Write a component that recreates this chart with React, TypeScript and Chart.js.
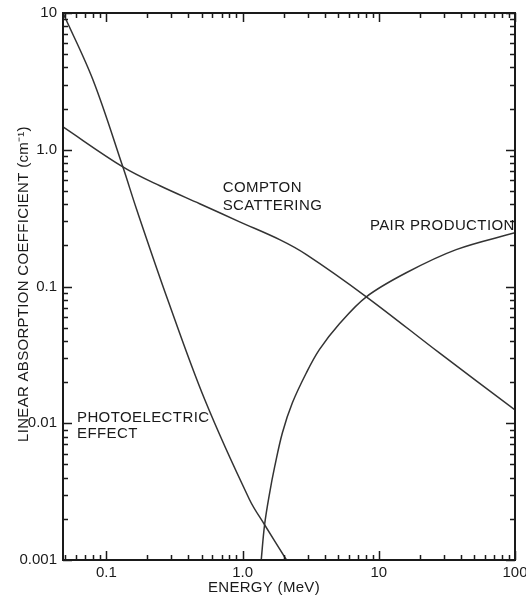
import React, { useEffect, useRef } from "react";
import { Chart, registerables } from "chart.js";

Chart.register(...registerables);

// Photoelectric effect
const photoEnergy = [0.048, 0.0796, 0.132, 0.167, 0.282, 0.527, 1.125, 1.45, 2.1];
const photoCoef = [10.0, 3.25, 0.75, 0.364, 0.08, 0.0149, 0.00276, 0.00181, 0.001];

// Compton scattering
const comptonEnergy = [0.048, 0.132, 0.247, 0.484, 0.951, 1.87, 2.94, 8.1, 27.7, 100];
const comptonCoef = [1.47, 0.75, 0.545, 0.403, 0.297, 0.22, 0.171, 0.0841, 0.0328, 0.0125];

// Pair production
const pairEnergy = [1.37, 1.45, 1.58, 1.72, 1.96, 2.32, 2.94, 3.66, 5.14, 8.1, 15.9, 37.0, 100];
const pairCoef = [0.001, 0.00181, 0.0031, 0.00481, 0.00853, 0.0141, 0.0234, 0.0345, 0.0534, 0.0841, 0.126, 0.186, 0.247];

// Axes
const xTickValues = [0.1, 1, 10, 100];
const xTickLabels = ["0.1", "1.0", "10", "100"];
const yTickValues = [0.001, 0.01, 0.1, 1, 10];
const yTickLabels = ["0.001", "0.01", "0.1", "1.0", "10"];
const xTitle = "ENERGY (MeV)";
const yTitle = "LINEAR ABSORPTION COEFFICIENT (cm\u207B\u00B9)";

// Curve labels (anchored in data coordinates: energy, coefficient)
const labelTexts = ["COMPTON", "SCATTERING", "PAIR PRODUCTION", "PHOTOELECTRIC", "EFFECT"];
const labelEnergy = [0.714, 0.714, 8.6, 0.0608, 0.0608];
const labelCoef = [0.493, 0.364, 0.26, 0.0102, 0.0078];

const FONT = '"Liberation Sans", Arial, sans-serif';
const LINE = "#333333";
const INK = "#1a1a1a";

const zip = (xs: number[], ys: number[]) => xs.map((x, i) => ({ x, y: ys[i] }));

const framePlugin = {
  id: "frameTicks",
  afterDraw(chart: any) {
    const { ctx, chartArea } = chart;
    const { left, right, top, bottom } = chartArea;
    const xs = chart.scales.x;
    const ys = chart.scales.y;
    ctx.save();
    ctx.strokeStyle = INK;
    ctx.lineWidth = 1.5;
    ctx.beginPath();
    for (let d = -3; d <= 2; d++) {
      for (let m = 1; m <= 9; m++) {
        const v = m * Math.pow(10, d);
        const len = m === 1 ? 9 : 5;
        if (v >= xs.min * 0.999 && v <= xs.max * 1.001) {
          const px = Math.round(xs.getPixelForValue(v)) + 0.5;
          ctx.moveTo(px, bottom);
          ctx.lineTo(px, bottom - len);
          ctx.moveTo(px, top);
          ctx.lineTo(px, top + len);
        }
        if (v >= ys.min * 0.999 && v <= ys.max * 1.001) {
          const py = Math.round(ys.getPixelForValue(v)) + 0.5;
          ctx.moveTo(left, py);
          ctx.lineTo(left + len, py);
          ctx.moveTo(right, py);
          ctx.lineTo(right - len, py);
        }
      }
    }
    ctx.stroke();
    ctx.lineWidth = 2;
    ctx.strokeRect(left, top, right - left, bottom - top);

    // curve labels
    ctx.fillStyle = INK;
    ctx.font = `15px ${FONT}`;
    (ctx as any).letterSpacing = "0.4px";
    ctx.textAlign = "left";
    ctx.textBaseline = "alphabetic";
    labelTexts.forEach((t, i) => {
      ctx.fillText(t, xs.getPixelForValue(labelEnergy[i]), ys.getPixelForValue(labelCoef[i]));
    });

    // axis titles
    (ctx as any).letterSpacing = "0.3px";
    ctx.fillText(xTitle, 208, 592);
    ctx.translate(28, 284);
    ctx.rotate(-Math.PI / 2);
    ctx.textAlign = "center";
    ctx.fillText(yTitle, 0, 0);
    ctx.restore();
  },
};

export default function App() {
  const ref = useRef<HTMLCanvasElement>(null);
  useEffect(() => {
    if (!ref.current) return;
    const lineStyle = {
      borderColor: LINE,
      borderWidth: 1.5,
      pointRadius: 0,
      fill: false,
      tension: 0.35,
    };
    const chart = new Chart(ref.current, {
      type: "line",
      data: {
        datasets: [
          { label: "Photoelectric effect", data: zip(photoEnergy, photoCoef), ...lineStyle },
          { label: "Compton scattering", data: zip(comptonEnergy, comptonCoef), ...lineStyle },
          { label: "Pair production", data: zip(pairEnergy, pairCoef), ...lineStyle },
        ],
      },
      options: {
        animation: false,
        responsive: false,
        layout: { padding: { left: 0, right: 11, top: 13, bottom: 0 } },
        plugins: { legend: { display: false }, tooltip: { enabled: false } },
        scales: {
          x: {
            type: "logarithmic",
            min: 0.048,
            max: 100,
            grid: { display: false, drawTicks: false },
            border: { display: false },
            afterBuildTicks: (s: any) => {
              s.ticks = xTickValues.map((v) => ({ value: v }));
            },
            afterFit: (s: any) => {
              s.height = 37;
              s.paddingLeft = 0;
              s.paddingRight = 0;
            },
            ticks: {
              autoSkip: false,
              maxRotation: 0,
              padding: 4,
              color: INK,
              font: { family: FONT, size: 15 },
              callback: (_v: any, i: number) => xTickLabels[i],
            },
          },
          y: {
            type: "logarithmic",
            min: 0.001,
            max: 10,
            grid: { display: false, drawTicks: false },
            border: { display: false },
            afterBuildTicks: (s: any) => {
              s.ticks = yTickValues.map((v) => ({ value: v }));
            },
            afterFit: (s: any) => {
              s.width = 63;
              s.paddingTop = 0;
              s.paddingBottom = 0;
            },
            ticks: {
              autoSkip: false,
              padding: 6,
              color: INK,
              font: { family: FONT, size: 15 },
              callback: (_v: any, i: number) => yTickLabels[i],
            },
          },
        },
      },
      plugins: [framePlugin],
    });
    return () => chart.destroy();
  }, []);
  return (
    <canvas
      ref={ref}
      width={526}
      height={597}
      style={{ position: "fixed", left: 0, top: 0, width: 526, height: 597 }}
    />
  );
}
